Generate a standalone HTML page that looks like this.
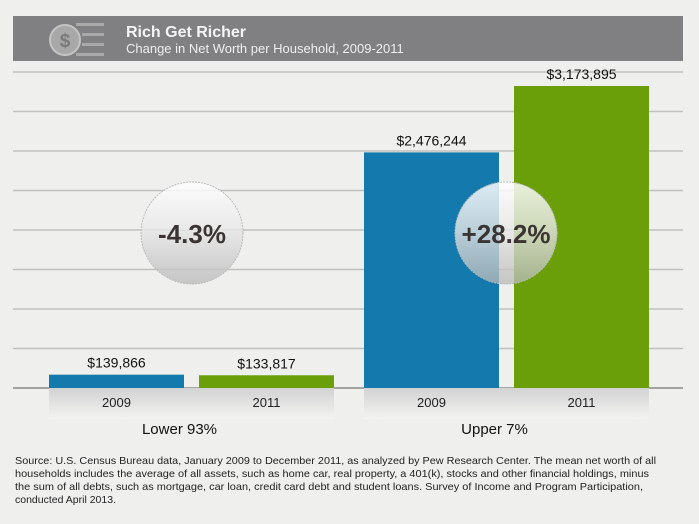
<!DOCTYPE html>
<html><head><meta charset="utf-8"><style>
body{margin:0;background:#efefed;}
svg{display:block;font-family:"Liberation Sans",sans-serif;}
</style></head><body>
<svg width="699" height="524" viewBox="0 0 699 524">
<defs>
<linearGradient id="box" x1="0" y1="0" x2="0" y2="1"><stop offset="0" stop-color="#d2d2d2"/><stop offset="1" stop-color="#f3f3f1"/></linearGradient>
<linearGradient id="circ" x1="0" y1="0" x2="0" y2="1"><stop offset="0" stop-color="#ffffff" stop-opacity="0.85"/><stop offset="0.45" stop-color="#e8e8e8" stop-opacity="0.8"/><stop offset="1" stop-color="#b8b8b8" stop-opacity="0.75"/></linearGradient>
</defs>
<rect width="699" height="524" fill="#efefed"/>
<g>
<rect x="13" y="16" width="670" height="45" fill="#808083"/>
<circle cx="65" cy="40" r="15" fill="#a8a8a8" stroke="#c4c4c4" stroke-width="2"/>
<text x="65" y="47" font-size="19" text-anchor="middle" fill="#7a7a7c" font-weight="bold">$</text>
<g fill="#a9a9aa"><rect x="76" y="23" width="28" height="3"/><rect x="82" y="33" width="22" height="3"/><rect x="82" y="43" width="22" height="3"/><rect x="76" y="53" width="28" height="3"/></g>
<text x="126" y="37" font-size="16" font-weight="bold" fill="#f4f4f4">Rich Get Richer</text>
<text x="126" y="53" font-size="13" fill="#eeeeee">Change in Net Worth per Household, 2009-2011</text>
</g>
<g id="grid"></g>
<g id="boxes"></g>
<g id="bars"></g>
<g id="circles"></g>
<g font-size="10.5" fill="#222">
<text x="15" y="464" textLength="641" lengthAdjust="spacingAndGlyphs">Source: U.S. Census Bureau data, January 2009 to December 2011, as analyzed by Pew Research Center. The mean net worth of all</text>
<text x="15" y="477" textLength="634" lengthAdjust="spacingAndGlyphs">households includes the average of all assets, such as home car, real property, a 401(k), stocks and other financial holdings, minus</text>
<text x="15" y="490" textLength="628" lengthAdjust="spacingAndGlyphs">the sum of all debts, such as mortgage, car loan, credit card debt and student loans. Survey of Income and Program Participation,</text>
<text x="15" y="503">conducted April 2013.</text>
</g>
</svg>
<script>
const groups=["Lower 93%","Upper 7%"];
const years=["2009","2011"];
const values2009=[139866,2476244];
const values2011=[133817,3173895];
const changes=["-4.3%","+28.2%"];
const NS="http://www.w3.org/2000/svg";
const base=388, top0=86, maxV=3173895;
const y=v=>base-(v/maxV)*(base-top0);
const gx=[49,364], bw=135, gap=15;
function mk(tag,attrs,parent,txt){const e=document.createElementNS(NS,tag);for(const k in attrs)e.setAttribute(k,attrs[k]);if(txt!==undefined)e.textContent=txt;parent.appendChild(e);return e;}
const grid=document.getElementById('grid');
for(let i=0;i<=8;i++){const yy=72+i*39.5;
const l=mk('line',{x1:13,x2:683,y1:yy,y2:yy,stroke:i==8?'#8a8a8a':'#c0c0be','stroke-width':1.5},grid);

}
const boxes=document.getElementById('boxes'),bars=document.getElementById('bars'),circ=document.getElementById('circles');
groups.forEach((g,gi)=>{
const bx=mk('rect',{x:gx[gi],y:base,width:bw*2+gap,height:31,fill:'url(#box)'},boxes);


const gl=mk('text',{x:gx[gi]+bw+gap/2-12,y:434,'font-size':15,'text-anchor':'middle',fill:'#111'},boxes,g);


[values2009[gi],values2011[gi]].forEach((v,si)=>{
const x=gx[gi]+si*(bw+gap);
const r=mk('rect',{x:x,y:y(v),width:bw,height:base-y(v),fill:si?'#6a9f0a':'#1479ac'},bars);


const t=mk('text',{x:x+bw/2,y:y(v)-7,'font-size':14,'text-anchor':'middle',fill:'#111'},bars,'$'+v.toLocaleString('en-US'));


const yl=mk('text',{x:x+bw/2,y:407,'font-size':13,'text-anchor':'middle',fill:'#222'},boxes,years[si]);


});
const cx=gi?506:192;
const c=mk('circle',{cx:cx,cy:233,r:51,fill:'url(#circ)',stroke:'#bbb','stroke-width':1,'stroke-dasharray':'2 1'},circ);


const ct=mk('text',{x:cx,y:243,'font-size':26,'font-weight':'bold','text-anchor':'middle',fill:'#3a3433'},circ,changes[gi]);


});
</script>
</body></html>
